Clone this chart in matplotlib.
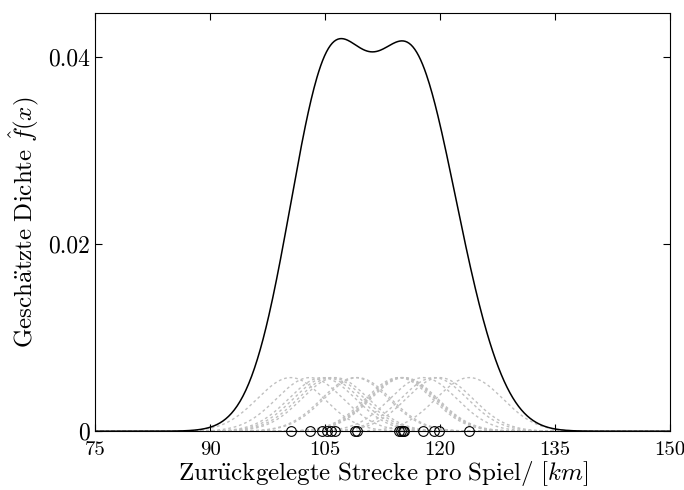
import numpy as np
import matplotlib
matplotlib.use("Agg")
import matplotlib.pyplot as plt

plt.rcParams['font.family'] = ['cmr10', 'DejaVu Serif']
plt.rcParams['mathtext.fontset'] = 'cm'
plt.rcParams['axes.unicode_minus'] = False

# distances per game (km), read from the rug
distances = [100.5, 103.0, 104.6, 105.2, 105.8, 106.3, 108.9, 109.2,
             114.6, 114.9, 115.1, 115.3, 117.8, 119.2, 119.9, 123.8]
bandwidth = 4.35

x_ticks = [75, 90, 105, 120, 135, 150]
y_ticks = [0, 0.02, 0.04]
y_labels = ['0', '0.02', '0.04']

xs = np.linspace(75, 150, 600)
data = np.array(distances)
n = len(data)

def gauss(u):
    return np.exp(-0.5 * u**2) / np.sqrt(2 * np.pi)

fig = plt.figure(figsize=(6.84, 4.9), dpi=100)
ax = fig.add_axes([0.139, 0.120, 0.841, 0.853])

# single kernels (grey, dashed) and their sum
total = np.zeros_like(xs)
for d in data:
    k = gauss((xs - d) / bandwidth) / (n * bandwidth)
    total += k
    ax.plot(xs, k, color='#c0c0c0', ls='--', lw=1.0, dashes=(2, 2))

ax.plot(xs, total, color='black', lw=1.1)
ax.plot(data, np.zeros(n), 'o', mfc='none', mec='black', ms=7, mew=0.8,
        clip_on=False, zorder=5)

ax.set_xlim(75, 150)
ax.set_ylim(0, 0.0447)
ax.set_xticks(x_ticks)
ax.set_yticks(y_ticks)
ax.set_yticklabels(y_labels)
ax.tick_params(direction='in', top=True, right=True, length=5)
ax.tick_params(axis='y', labelsize=17, pad=4)
ax.tick_params(axis='x', labelsize=15, pad=7)
ax.set_xlabel(r'$\mathrm{Zur\ddot{u}ckgelegte\ Strecke\ pro\ Spiel/\ }[km]$',
              fontsize=18, labelpad=0)
ax.set_ylabel(r'$\mathrm{Gesch\ddot{a}tzte\ Dichte\ }\hat{f}(x)$',
              fontsize=18, labelpad=4)

fig.savefig('out.png', dpi=100)
